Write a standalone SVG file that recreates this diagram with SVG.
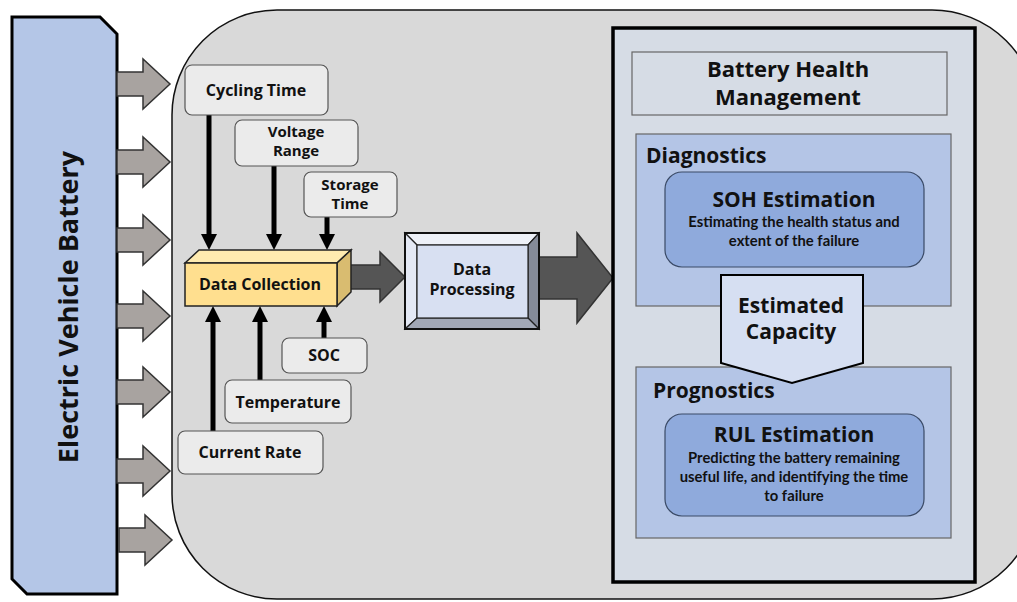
<svg xmlns="http://www.w3.org/2000/svg" width="1017" height="602" viewBox="0 0 1017 602">
<style>
.t{font-family:"Open Sans","Liberation Sans",sans-serif;font-weight:bold;fill:#111;text-anchor:middle}
.s{font-family:Lato,"Liberation Sans",sans-serif;font-weight:bold;fill:#111;text-anchor:middle;font-size:14.8px}
.box{fill:#EBEBEB;stroke:#555;stroke-width:1.2}
.ga{fill:#A8A3A0;stroke:#333;stroke-width:1.5}
.da{fill:#555;stroke:#333;stroke-width:1.5}
.vl{stroke:#000;stroke-width:5;fill:none}
.hd{fill:#000}
</style>
<rect width="1017" height="602" fill="#fff"/>
<g id="container">
<rect x="172" y="10" width="865" height="589" rx="105" fill="#D9D9D9" stroke="#111" stroke-width="1.5"/>
</g>
<g id="battery">
<path d="M12,17 H100 L117,34 V594 H27 L12,579 Z" fill="#B4C6E7" stroke="#000" stroke-width="3"/>
<text class="t" font-size="27" transform="translate(78,307) rotate(-90)">Electric Vehicle Battery</text>
</g>
<g id="connectors">
<g id="battery-arrows">
<path class="ga" d="M117,72 H143 V59 L170,84 L143,109 V96 H117 Z"/>
<path class="ga" d="M117,150 H143 V137 L170,162 L143,187 V174 H117 Z"/>
<path class="ga" d="M117,228 H143 V215 L170,240 L143,265 V252 H117 Z"/>
<path class="ga" d="M117,304 H143 V291 L170,316 L143,341 V328 H117 Z"/>
<path class="ga" d="M117,380 H143 V367 L170,392 L143,417 V404 H117 Z"/>
<path class="ga" d="M117,459 H143 V446 L170,471 L143,496 V483 H117 Z"/>
<path class="ga" d="M119,528 H145 V515 L172,540 L145,565 V552 H119 Z"/>
</g>
<line class="vl" x1="209" y1="114" x2="209" y2="236"/>
<path class="hd" d="M201,234 H217 L209,250 Z"/>
<line class="vl" x1="274" y1="166" x2="274" y2="236"/>
<path class="hd" d="M266,234 H282 L274,250 Z"/>
<line class="vl" x1="327" y1="217" x2="327" y2="236"/>
<path class="hd" d="M319,234 H335 L327,250 Z"/>
<line class="vl" x1="213" y1="431" x2="213" y2="320"/>
<path class="hd" d="M205,322 H221 L213,306 Z"/>
<line class="vl" x1="260" y1="380" x2="260" y2="320"/>
<path class="hd" d="M252,322 H268 L260,306 Z"/>
<line class="vl" x1="324" y1="338" x2="324" y2="320"/>
<path class="hd" d="M316,322 H332 L324,306 Z"/>
<path class="da" d="M343,265 H380 V252 L405,277 L380,302 V289 H343 Z"/>
<path class="da" d="M539,257 H577 V233 L613,278 L577,323 V299 H539 Z"/>
</g>
<g id="cycling-time">
<rect class="box" x="185" y="65" width="143" height="50" rx="7"/>
<text class="t" font-size="16" x="256" y="96">Cycling Time</text>
</g>
<g id="voltage-range">
<rect class="box" x="235" y="120" width="123" height="46" rx="7"/>
<text class="t" font-size="15" x="296" y="137">Voltage</text>
<text class="t" font-size="15" x="296" y="156">Range</text>
</g>
<g id="storage-time">
<rect class="box" x="304" y="172" width="93" height="45" rx="7"/>
<text class="t" font-size="15" x="350" y="190">Storage</text>
<text class="t" font-size="15" x="350" y="209">Time</text>
</g>
<g id="data-collection">
<path d="M185,263 L199,250 H351 L337,263 Z" fill="#FFEBB0" stroke="#222" stroke-width="1.5"/>
<path d="M337,263 L351,250 V292 L337,306 Z" fill="#D9BC70" stroke="#222" stroke-width="1.5"/>
<rect x="185" y="263" width="152" height="43" fill="#FFDF8F" stroke="#222" stroke-width="1.5"/>
<text class="t" font-size="16" x="260" y="290">Data Collection</text>
</g>
<g id="soc">
<rect class="box" x="282" y="338" width="85" height="35" rx="7"/>
<text class="t" font-size="16" x="324" y="361">SOC</text>
</g>
<g id="temperature">
<rect class="box" x="225" y="380" width="126" height="43" rx="7"/>
<text class="t" font-size="16" x="288" y="408">Temperature</text>
</g>
<g id="current-rate">
<rect class="box" x="178" y="431" width="145" height="43" rx="7"/>
<text class="t" font-size="16" x="250" y="458">Current Rate</text>
</g>
<g id="data-processing">
<path d="M405,233 H539 L528,245 H417 Z" fill="#EEF1F8" stroke="#222" stroke-width="1.2"/>
<path d="M405,233 L417,245 V318 L405,329 Z" fill="#E4E9F5" stroke="#222" stroke-width="1.2"/>
<path d="M539,233 V329 L528,318 V245 Z" fill="#858B99" stroke="#222" stroke-width="1.2"/>
<path d="M405,329 H539 L528,318 H417 Z" fill="#A2A8B6" stroke="#222" stroke-width="1.2"/>
<rect x="417" y="245" width="111" height="73" fill="#D8E0F2" stroke="#222" stroke-width="1.2"/>
<rect x="405" y="233" width="134" height="96" fill="none" stroke="#111" stroke-width="2"/>
<text class="t" font-size="16" x="472" y="275">Data</text>
<text class="t" font-size="16" x="472" y="295">Processing</text>
</g>
<g id="bhm">
<rect x="613" y="28" width="362" height="554" fill="#D6DCE5" stroke="#000" stroke-width="3.5"/>
<rect x="632" y="52" width="315" height="63" fill="#D6DCE5" stroke="#666" stroke-width="1.2"/>
<text class="t" font-size="22" x="788" y="77">Battery Health</text>
<text class="t" font-size="22" x="788" y="105">Management</text>
</g>
<g id="diagnostics">
<rect x="636" y="134" width="315" height="172" fill="#B4C5E6" stroke="#666" stroke-width="1.2"/>
<text class="t" font-size="21" x="646" y="163" style="text-anchor:start">Diagnostics</text>
</g>
<g id="soh-estimation">
<rect x="665" y="172" width="259" height="95" rx="17" fill="#8FAADC" stroke="#3A4A66" stroke-width="1.2"/>
<text class="t" font-size="21" x="794" y="207">SOH Estimation</text>
<text class="s" x="794" y="227">Estimating the health status and</text>
<text class="s" x="794" y="246">extent of the failure</text>
</g>
<g id="prognostics">
<rect x="636" y="367" width="315" height="171" fill="#B4C5E6" stroke="#666" stroke-width="1.2"/>
<text class="t" font-size="21" x="653" y="398" style="text-anchor:start">Prognostics</text>
</g>
<g id="rul-estimation">
<rect x="665" y="414" width="259" height="102" rx="17" fill="#8FAADC" stroke="#3A4A66" stroke-width="1.2"/>
<text class="t" font-size="21" x="794" y="442">RUL Estimation</text>
<text class="s" x="794" y="463">Predicting the battery remaining</text>
<text class="s" x="794" y="482">useful life, and identifying the time</text>
<text class="s" x="794" y="501">to failure</text>
</g>
<g id="estimated-capacity">
<path d="M721,275 H863 V363 L792,383 L721,363 Z" fill="#D6DFF2" stroke="#000" stroke-width="2"/>
<text class="t" font-size="21" x="791" y="313">Estimated</text>
<text class="t" font-size="21" x="791" y="339">Capacity</text>
</g>
</svg>
